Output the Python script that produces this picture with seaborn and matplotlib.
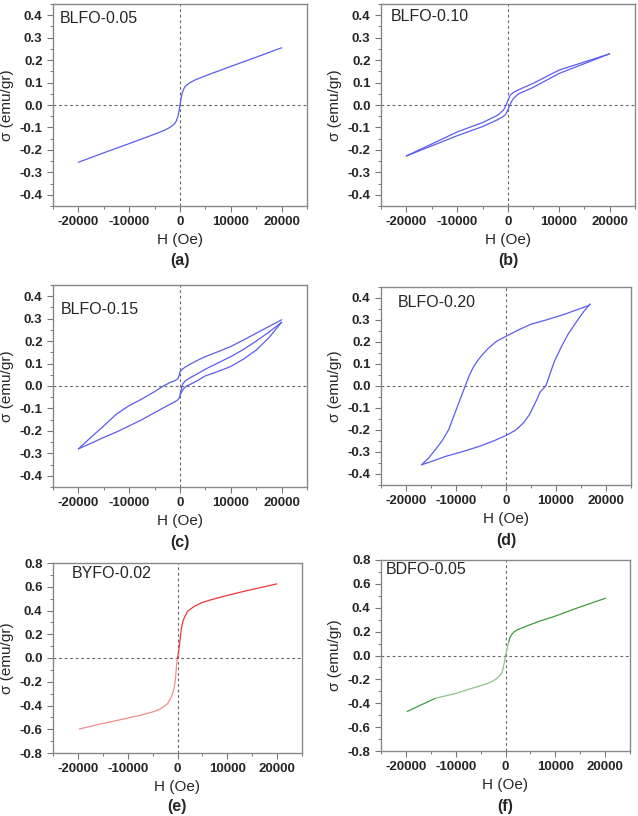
import numpy as np
import pandas as pd
import matplotlib
matplotlib.use("Agg")
import matplotlib.pyplot as plt
import seaborn as sns
from matplotlib.ticker import MultipleLocator

sns.set_style("ticks")
plt.rcParams["font.family"] = ["Liberation Sans", "DejaVu Sans"]
plt.rcParams["font.weight"] = "bold"
plt.rcParams["axes.unicode_minus"] = False

# %% data read off the M-H loops
# (a) BLFO-0.05 - loop is almost closed, one branch
a_h = [-20000, -15000, -10000, -5000, -3000, -2000, -1500, -1000, -700, -400, -200, 0,
       200, 400, 700, 1000, 1500, 2000, 3000, 5000, 10000, 15000, 20000]
a_s = [-0.255, -0.213, -0.172, -0.13, -0.112, -0.1, -0.092, -0.082, -0.07, -0.05, -0.028, 0.0,
       0.028, 0.05, 0.07, 0.082, 0.092, 0.1, 0.112, 0.13, 0.172, 0.213, 0.255]

# (b) BLFO-0.10
b_h_down = [20000, 10000, 5000, 2000, 1000, 500, 200, 0, -300, -600, -1000, -2000,
            -5000, -10000, -20000]
b_s_down = [0.228, 0.155, 0.097, 0.067, 0.055, 0.045, 0.032, 0.02, 0.005, -0.012, -0.025,
            -0.045, -0.078, -0.12, -0.227]
b_h_up = [-20000, -10000, -5000, -2000, -1000, -500, -200, 0, 300, 600, 1000, 2000,
          5000, 10000, 20000]
b_s_up = [-0.227, -0.137, -0.096, -0.065, -0.052, -0.043, -0.03, -0.02, -0.005, 0.012,
          0.027, 0.049, 0.079, 0.14, 0.228]

# (c) BLFO-0.15
c_h_down = [20000, 17500, 15000, 12500, 10000, 7500, 5000, 3500, 2000, 1000, 500, 150,
            0, -150, -400, -1000, -2000, -3300, -5000, -7500, -10200, -12500, -15100,
            -17500, -20000]
c_s_down = [0.295, 0.265, 0.235, 0.205, 0.176, 0.153, 0.131, 0.115, 0.097, 0.084, 0.075,
            0.068, 0.063, 0.048, 0.033, 0.024, 0.015, 0.0, -0.025, -0.058, -0.09, -0.125,
            -0.18, -0.228, -0.28]
c_h_up = [-20000, -17500, -15100, -12500, -10200, -7500, -5260, -3500, -2000, -1000,
          -330, 0, 150, 330, 500, 1000, 2000, 3500, 5000, 7500, 10000, 12500, 15000,
          17500, 20000]
c_s_up = [-0.28, -0.255, -0.23, -0.205, -0.18, -0.15, -0.122, -0.1, -0.082, -0.07,
          -0.06, -0.045, -0.025, -0.007, 0.008, 0.022, 0.037, 0.055, 0.075, 0.103,
          0.131, 0.163, 0.2, 0.24, 0.284]
c_h_virgin = [0, 300, 700, 1300, 2000, 3500, 5000, 7500, 10000, 12500, 15000, 17500, 20000]
c_s_virgin = [-0.04, -0.028, -0.012, 0.0, 0.007, 0.025, 0.045, 0.065, 0.087, 0.12,
              0.16, 0.215, 0.284]

# (d) BLFO-0.20
d_h_down = [16800, 16460, 14000, 11700, 8000, 4900, 2500, 0, -1900, -3500, -4500,
            -5300, -6000, -6670, -7300, -8160, -9390, -10500, -11430, -12800, -14150,
            -15500, -16870]
d_s_down = [0.372, 0.365, 0.345, 0.326, 0.3, 0.28, 0.255, 0.226, 0.203, 0.172, 0.148,
            0.126, 0.105, 0.08, 0.05, 0.0, -0.074, -0.14, -0.197, -0.25, -0.29,
            -0.328, -0.358]
d_h_up = [-16870, -14500, -12100, -8500, -5300, -2500, 0, 2000, 3540, 4700, 5580,
          6300, 6800, 7960, 8800, 9660, 11000, 12380, 13500, 14420, 15600, 16800]
d_s_up = [-0.358, -0.34, -0.32, -0.297, -0.274, -0.25, -0.225, -0.2, -0.166, -0.13,
          -0.089, -0.055, -0.028, 0.0, 0.055, 0.111, 0.175, 0.234, 0.272, 0.303,
          0.34, 0.372]

# (e) BYFO-0.02  (negative half drawn lighter, as in the figure)
e_h_neg = [-19750, -15400, -10040, -7000, -4690, -3500, -2680, -2000, -1340, -1000,
           -670, -450, -330, -130, 0]
e_s_neg = [-0.598, -0.556, -0.506, -0.478, -0.45, -0.43, -0.407, -0.385, -0.337, -0.3,
           -0.253, -0.19, -0.14, -0.028, 0.0]
e_h_pos = [0, 130, 300, 470, 800, 1100, 1340, 2010, 3350, 4800, 6690, 10000, 13390, 19950]
e_s_pos = [0.0, 0.028, 0.08, 0.14, 0.253, 0.31, 0.337, 0.393, 0.435, 0.465, 0.49, 0.527,
           0.562, 0.624]

# (f) BDFO-0.05
f_h_low = [-19750, -17000, -14060]
f_s_low = [-0.469, -0.415, -0.358]
f_h_mid = [-14060, -10000, -6690, -4500, -2680, -1800, -1000, -700, -470, -200, 0, 270, 670]
f_s_mid = [-0.358, -0.318, -0.274, -0.247, -0.218, -0.195, -0.162, -0.14, -0.106, -0.05,
           0.0, 0.047, 0.117]
f_h_high = [670, 900, 1200, 1700, 2340, 4020, 6690, 10000, 13390, 20080]
f_s_high = [0.117, 0.15, 0.173, 0.197, 0.215, 0.243, 0.285, 0.33, 0.383, 0.48]

BLUE = "#5c5cf0"
RED = "#ef3636"
RED_LIGHT = "#f38c8c"
GREEN = "#3f9a3f"
GREEN_LIGHT = "#8cc48c"

W, H = 638, 816
fig = plt.figure(figsize=(W / 100, H / 100), dpi=100)


def px_axes(left, right, top, bottom):
    return fig.add_axes([left / W, 1 - bottom / H, (right - left) / W, (bottom - top) / H])


def draw_panel(ax, branches, ylim, ymaj, name, name_xy):
    for h, s, color in branches:
        df = pd.DataFrame({"H": h, "s": s})
        sns.lineplot(data=df, x="H", y="s", sort=False, estimator=None,
                     color=color, lw=0.9, ax=ax)
    ax.axhline(0, color="#666666", ls=(0, (2.5, 2.5)), lw=0.8, zorder=0)
    ax.axvline(0, color="#666666", ls=(0, (2.5, 2.5)), lw=0.8, zorder=0)
    ax.set_xlim(-25000, 25000)
    ax.set_ylim(*ylim)
    xt = [-20000, -10000, 0, 10000, 20000]
    ax.set_xticks(xt)
    ax.set_xticklabels([str(v) for v in xt], fontweight="bold", fontsize=9.5)
    ax.xaxis.set_minor_locator(MultipleLocator(5000))
    yt = np.round(np.arange(-4, 5) * ymaj, 2)
    ax.set_yticks(yt)
    ax.set_yticklabels([f"{v:.1f}" for v in yt], fontweight="bold", fontsize=9.5)
    ax.yaxis.set_minor_locator(MultipleLocator(ymaj / 2))
    ax.tick_params(which="major", direction="out", length=4, width=0.8,
                   color="#777777")
    ax.tick_params(which="minor", direction="out", length=2.5, width=0.7,
                   color="#777777")
    for sp in ax.spines.values():
        sp.set_visible(True)
        sp.set_color("#888888")
        sp.set_linewidth(1.0)
    ax.set_xlabel("H (Oe)", fontsize=11, fontweight="normal", labelpad=3)
    ax.set_ylabel("σ (emu/gr)", fontsize=11, fontweight="normal", labelpad=4)
    ax.text(name_xy[0], name_xy[1], name, transform=ax.transAxes,
            fontsize=11.5, fontweight="normal", va="center", ha="left")


ax_a = px_axes(53, 307, 4, 206)
draw_panel(ax_a, [(a_h, a_s, BLUE)], (-0.45, 0.45), 0.1, "BLFO-0.05", (0.028, 0.93))
ax_b = px_axes(381, 635, 4, 206)
draw_panel(ax_b, [(b_h_down, b_s_down, BLUE), (b_h_up, b_s_up, BLUE)],
           (-0.45, 0.45), 0.1, "BLFO-0.10", (0.04, 0.94))
ax_c = px_axes(53, 307, 285, 487)
draw_panel(ax_c, [(c_h_virgin, c_s_virgin, BLUE), (c_h_down, c_s_down, BLUE),
                  (c_h_up, c_s_up, BLUE)],
           (-0.45, 0.45), 0.1, "BLFO-0.15", (0.03, 0.88))
ax_d = px_axes(381, 631, 287, 485)
draw_panel(ax_d, [(d_h_down, d_s_down, BLUE), (d_h_up, d_s_up, BLUE)],
           (-0.45, 0.45), 0.1, "BLFO-0.20", (0.068, 0.92))
ax_e = px_axes(53, 302, 563, 753)
draw_panel(ax_e, [(e_h_neg, e_s_neg, RED_LIGHT), (e_h_pos, e_s_pos, RED)],
           (-0.8, 0.8), 0.2, "BYFO-0.02", (0.076, 0.947))
ax_f = px_axes(381, 630, 560, 751)
draw_panel(ax_f, [(f_h_low, f_s_low, GREEN), (f_h_mid, f_s_mid, GREEN_LIGHT),
                  (f_h_high, f_s_high, GREEN)],
           (-0.8, 0.8), 0.2, "BDFO-0.05", (0.02, 0.948))

# panel tags under each x label
tags = [("(a)", 180, 260), ("(b)", 508, 260), ("(c)", 180, 542),
        ("(d)", 506, 540), ("(e)", 177, 807), ("(f)", 505, 807)]
for t, x, y in tags:
    fig.text(x / W, 1 - y / H, t, ha="center", va="center", fontsize=11.5,
             fontweight="bold")

fig.savefig("out.png", dpi=100)
